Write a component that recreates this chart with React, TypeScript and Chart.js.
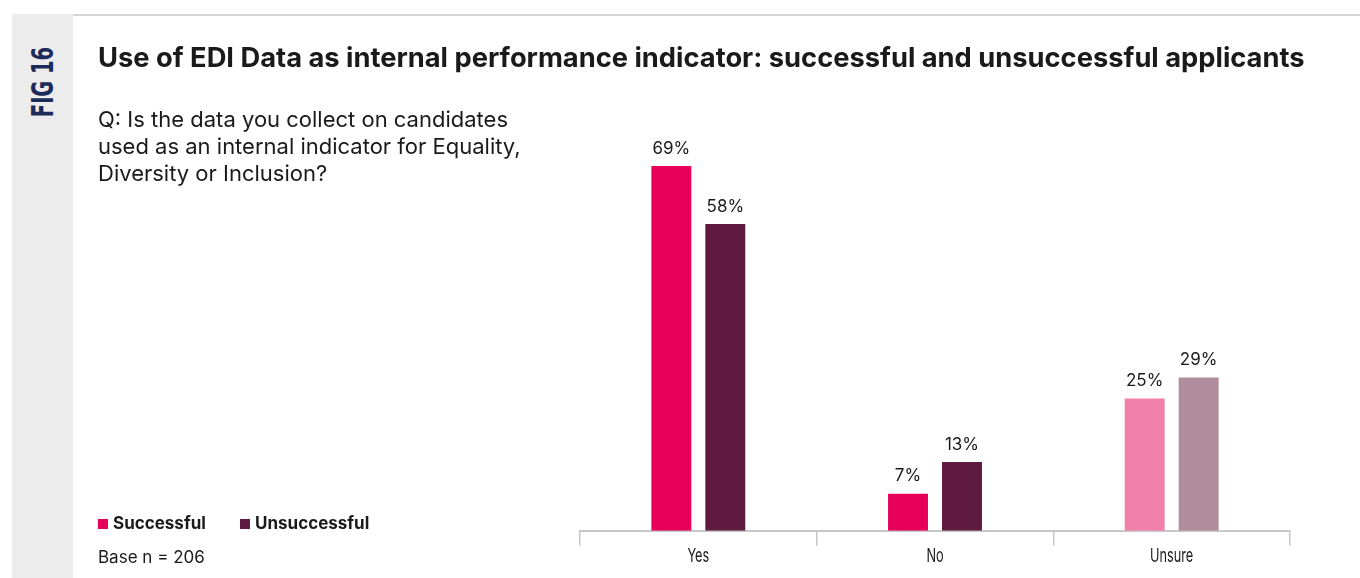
import React, { useEffect, useRef } from "react";
import { Chart, registerables } from "chart.js";

Chart.register(...registerables);

const categories = ["Yes", "No", "Unsure"];
const successful = [69, 7, 25];
const unsuccessful = [58, 13, 29];
const successfulColors = ["#e6005a", "#e6005a", "#f07faa"];
const unsuccessfulColors = ["#5e1a40", "#5e1a40", "#b08c9d"];
const seriesNames = ["Successful", "Unsuccessful"];

const FONT = "Inter, 'Liberation Sans', Arial, sans-serif";

const valueLabels = {
  id: "valueLabels",
  afterDatasetsDraw(chart: any) {
    const ctx = chart.ctx;
    ctx.save();
    ctx.font = `17px ${FONT}`;
    ctx.fillStyle = "#1a1a1a";
    ctx.textAlign = "center";
    ctx.textBaseline = "bottom";
    chart.data.datasets.forEach((ds: any, di: number) => {
      const meta = chart.getDatasetMeta(di);
      meta.data.forEach((bar: any, i: number) => {
        ctx.fillText(`${ds.data[i]}%`, bar.x, bar.y - 9);
      });
    });
    ctx.restore();
  },
};

// Draws the x tick labels (narrow type) at the positions of the library's own category scale
const narrowTicks = {
  id: "narrowTicks",
  afterDraw(chart: any) {
    const scale = chart.scales.x;
    const ctx = chart.ctx;
    ctx.save();
    ctx.font = `19px ${FONT}`;
    ctx.fillStyle = "#1a1a1a";
    ctx.textAlign = "center";
    ctx.textBaseline = "middle";
    scale.ticks.forEach((t: any, i: number) => {
      const x = scale.getPixelForTick(i);
      const y = scale.top + 25;
      ctx.save();
      ctx.translate(x, y);
      ctx.scale(0.67, 1);
      ctx.fillText(String(scale.getLabelForValue(t.value)), 0, 0);
      ctx.restore();
    });
    ctx.restore();
  },
};

export default function App() {
  const ref = useRef<HTMLCanvasElement | null>(null);
  useEffect(() => {
    if (!ref.current) return;
    const chart = new Chart(ref.current, {
      type: "bar",
      data: {
        labels: categories,
        datasets: [
          {
            label: seriesNames[0],
            data: successful,
            backgroundColor: successfulColors,
            categoryPercentage: 0.456,
            barPercentage: 0.74,
          },
          {
            label: seriesNames[1],
            data: unsuccessful,
            backgroundColor: unsuccessfulColors,
            categoryPercentage: 0.456,
            barPercentage: 0.74,
          },
        ],
      },
      options: {
        animation: false,
        responsive: false,
        layout: { padding: { left: 580, right: 70, top: 2, bottom: 13 } },
        plugins: { legend: { display: false }, tooltip: { enabled: false } },
        scales: {
          y: { display: false, min: 0, max: 100 },
          x: {
            grid: {
              drawOnChartArea: false,
              drawTicks: true,
              tickLength: 15,
              color: "#c8c8c8",
              lineWidth: 1.5,
              offset: true,
            },
            border: { color: "#c8c8c8", width: 2 },
            ticks: {
              padding: 0,
              color: "rgba(0,0,0,0)",
              font: { family: FONT, size: 16 },
            },
          },
        },
      },
      plugins: [valueLabels, narrowTicks],
    });
    return () => chart.destroy();
  }, []);

  return (
    <div
      style={{
        position: "fixed",
        left: 0,
        top: 0,
        width: 1360,
        height: 578,
        background: "#fff",
        overflow: "hidden",
        fontFamily: FONT,
        color: "#1a1a1a",
      }}
    >
      <div style={{ position: "absolute", left: 12, top: 14, width: 61, height: 564, background: "#ececec" }} />
      <div style={{ position: "absolute", left: 73, top: 14, width: 1287, height: 2, background: "#d6d6d6" }} />
      <div
        style={{
          position: "absolute",
          left: 43,
          top: 82,
          transform: "translate(-50%, -50%) rotate(-90deg) scaleX(0.72)",
          fontFamily: "'DejaVu Sans Condensed', 'DejaVu Sans', sans-serif",
          fontWeight: 700,
          fontSize: 30,
          color: "#1d2b5b",
          whiteSpace: "nowrap",
          lineHeight: 1,
        }}
      >
        FIG 16
      </div>
      <canvas ref={ref} width={1360} height={578} style={{ position: "absolute", left: 0, top: 0 }} />
      <div
        style={{
          position: "absolute",
          left: 98,
          top: 42,
          fontSize: 27.3,
          fontWeight: 700,
          whiteSpace: "nowrap",
          lineHeight: "32px",
        }}
      >
        Use of EDI Data as internal performance indicator: successful and unsuccessful applicants
      </div>
      <div style={{ position: "absolute", left: 98, top: 106, fontSize: 22, lineHeight: "27px", width: 480, whiteSpace: "nowrap" }}>
        Q: Is the data you collect on candidates
        <br />
        used as an internal indicator for Equality,
        <br />
        Diversity or Inclusion?
      </div>
      <div style={{ position: "absolute", left: 98, top: 513, fontSize: 17, fontWeight: 700, lineHeight: "20px", whiteSpace: "nowrap" }}>
        <span style={{ display: "inline-block", width: 10, height: 10, background: successfulColors[0], marginRight: 5 }} />
        <span>{seriesNames[0]}</span>
      </div>
      <div style={{ position: "absolute", left: 240, top: 513, fontSize: 17, fontWeight: 700, lineHeight: "20px", whiteSpace: "nowrap" }}>
        <span style={{ display: "inline-block", width: 10, height: 10, background: unsuccessfulColors[0], marginRight: 5 }} />
        <span>{seriesNames[1]}</span>
      </div>
      <div style={{ position: "absolute", left: 98, top: 547, fontSize: 17, lineHeight: "20px", whiteSpace: "nowrap" }}>
        Base n = 206
      </div>
    </div>
  );
}
